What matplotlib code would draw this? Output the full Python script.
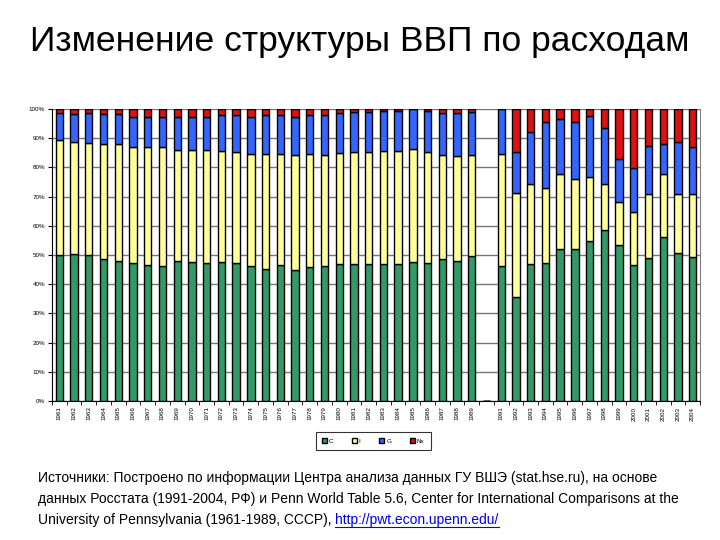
import matplotlib
matplotlib.use("Agg")
import matplotlib.pyplot as plt
import numpy as np

plt.rcParams['font.family'] = ['Liberation Sans', 'DejaVu Sans']

years_ussr = [str(y) for y in range(1961, 1990)]
years_rus = [str(y) for y in range(1991, 2005)]

# shares, % of GDP (USSR 1961-1989)
c_ussr = [49.9, 50.3, 49.9, 48.5, 47.8, 47.2, 46.5, 46.2, 47.8, 47.6, 47.3, 47.5, 47.1, 46.2, 45.3,
          46.5, 44.9, 45.8, 46.3, 46.8, 47.0, 47.0, 47.0, 47.0, 47.5, 47.3, 48.5, 47.9, 49.7]
i_ussr = [39.4, 38.4, 38.3, 39.6, 40.2, 39.9, 40.4, 40.7, 38.2, 38.3, 38.5, 38.2, 38.3, 38.4, 39.4,
          38.2, 39.2, 38.8, 38.1, 38.2, 38.2, 38.4, 38.7, 38.6, 38.7, 38.1, 35.9, 36.1, 34.7]
g_ussr = [9.2, 9.6, 10.3, 10.2, 10.2, 10.3, 10.5, 10.5, 11.4, 11.5, 11.6, 12.2, 12.5, 12.8, 13.2,
          13.2, 13.3, 13.3, 13.6, 13.5, 13.9, 13.6, 13.6, 13.7, 13.7, 13.9, 14.4, 14.8, 14.6]
nx_ussr = [1.5, 1.7, 1.5, 1.7, 1.8, 2.6, 2.6, 2.6, 2.6, 2.6, 2.6, 2.1, 2.1, 2.6, 2.1,
           2.1, 2.6, 2.1, 2.0, 1.5, 0.9, 1.0, 0.7, 0.7, 0.1, 0.7, 1.2, 1.2, 1.0]

# shares, % of GDP (Russia 1991-2004)
c_rus = [46.2, 35.6, 47.0, 47.2, 52.1, 52.1, 54.8, 58.7, 53.4, 46.5, 49.1, 56.2, 50.7, 49.3]
i_rus = [38.3, 35.5, 27.2, 25.6, 25.5, 23.9, 21.9, 15.5, 14.9, 18.3, 21.9, 21.6, 20.3, 21.5]
g_rus = [15.5, 14.3, 17.8, 22.6, 19.0, 19.7, 21.0, 19.2, 14.6, 15.1, 16.4, 10.3, 17.8, 16.3]
nx_rus = [0.0, 14.6, 8.0, 4.6, 3.4, 4.3, 2.3, 6.6, 17.1, 20.1, 12.6, 11.9, 11.2, 12.9]

series_names = ['C', 'I', 'G', 'Nx']
colors = ['#339966', '#FFFF99', '#3366FF', '#DD1111']

labels = years_ussr + [''] + years_rus
nan = [np.nan]
data = [
    np.array(c_ussr + nan + c_rus),
    np.array(i_ussr + nan + i_rus),
    np.array(g_ussr + nan + g_rus),
    np.array(nx_ussr + nan + nx_rus),
]
totals = sum(np.nan_to_num(d) for d in data)
shares = [np.nan_to_num(d) / np.where(totals == 0, 1, totals) for d in data]

fig = plt.figure(figsize=(7.2, 5.4), dpi=100)
fig.text(0.5, 1 - 42/540, 'Изменение структуры ВВП по расходам', ha='center', va='center',
         fontsize=25.5, color='black')

ax = fig.add_axes([52/720, (540-401)/540, 648/720, 292/540])
x = np.arange(len(labels))
bottom = np.zeros(len(labels))
handles = []
for name, s, col in zip(series_names, shares, colors):
    b = ax.bar(x, s, width=0.5, bottom=bottom, color=col, edgecolor='black',
               linewidth=1.0, label=name, zorder=3)
    handles.append(b)
    bottom = bottom + s

ax.set_xlim(-0.5, len(labels) - 0.5)
ax.set_ylim(0, 1)
ax.set_yticks(np.linspace(0, 1, 11))
ax.set_yticklabels([f'{int(round(v*100))}%' for v in np.linspace(0, 1, 11)], fontsize=4.5)
ax.yaxis.grid(True, color='#777777', linewidth=1.0, zorder=0)
ax.set_xticks(x)
ax.set_xticklabels(labels, rotation=90, fontsize=4.5)
ax.set_xticks(np.arange(-0.5, len(labels), 1), minor=True)
ax.tick_params(axis='x', which='major', length=0, pad=4)
ax.tick_params(axis='x', which='minor', length=3, color='black')
ax.tick_params(axis='y', length=3, pad=2)
ax.spines['top'].set_visible(False)
ax.spines['right'].set_color('#808080')
ax.spines['left'].set_color('black')
ax.spines['bottom'].set_color('black')

leg = fig.legend(handles=handles, labels=series_names, loc='center',
                 bbox_to_anchor=(373/720, 1 - 441/540), ncol=4, fontsize=4.5,
                 frameon=True, fancybox=False, edgecolor='black', handlelength=0.8,
                 handleheight=0.8, columnspacing=3.0, borderpad=1.0, handletextpad=0.3)
leg.get_frame().set_linewidth(0.8)

src_fs = 10.0
lines = [
    'Источники: Построено по информации Центра анализа данных ГУ ВШЭ (stat.hse.ru), на основе',
    'данных Росстата (1991-2004, РФ) и Penn World Table 5.6, Center for International Comparisons at the',
    'University of Pennsylvania (1961-1989, СССР), ',
]
ys = [478, 499, 520]
for ln, yy in zip(lines, ys):
    fig.text(38/720, 1 - yy/540, ln, ha='left', va='center', fontsize=src_fs, color='black')

fig.canvas.draw()
r = fig.canvas.get_renderer()
t3 = fig.texts[-1]
bb = t3.get_window_extent(renderer=r)
url_x = bb.x1 / 720
url = fig.text(url_x, 1 - 520/540, 'http://pwt.econ.upenn.edu/', ha='left', va='center',
               fontsize=src_fs, color='#0000EE')
fig.canvas.draw()
ub = url.get_window_extent(renderer=r)
uy = (ub.y0 + 0.5) / 540
fig.add_artist(plt.Line2D([ub.x0/720, ub.x1/720], [uy, uy], color='#0000EE',
                          linewidth=0.8, transform=fig.transFigure))

fig.savefig('out.png', dpi=100)
